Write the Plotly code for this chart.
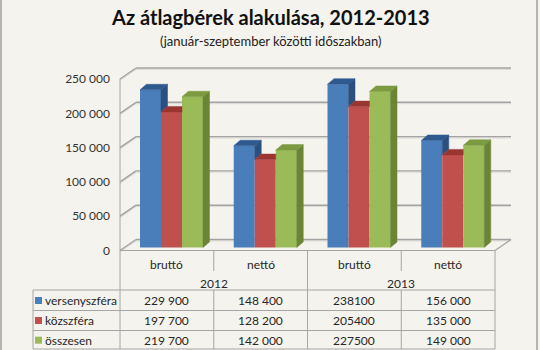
import plotly.graph_objects as go

# ---------------- data ----------------
CATEGORIES = ["bruttó", "nettó", "bruttó", "nettó"]
YEARS = ["2012", "2013"]
SERIES = ["versenyszféra", "közszféra", "összesen"]
VERSENY = [229900, 148400, 238100, 156000]
KOZ = [197700, 128200, 205400, 135000]
OSSZ = [219700, 142000, 227500, 149000]
Y_TICKS = [0, 50000, 100000, 150000, 200000, 250000]
Y_TICK_LABELS = ["0", "50 000", "100 000", "150 000", "200 000", "250 000"]
THOUSANDS_SPACE = [True, True, False, True]   # as printed in the source table

VALUES = [VERSENY, KOZ, OSSZ]
FRONT_COLORS = ["#4A7EBB", "#C0504D", "#9BBB59"]
TOP_COLORS = ["#2F5A90", "#9A3532", "#7C9A40"]
SIDE_COLORS = ["#2B4F7E", "#8A2F2D", "#6A8535"]

# ---------------- geometry ----------------
W, H = 540, 350
CAT_PX = 93.75          # width of one category (px)
X0_PX = 166.9           # front-plane centre of first category (px)
Y0_PX = 247.5           # bar base (px)
PX_PER_VAL = 171.5 / 250000


def ux(px):
    return px / CAT_PX


def uy(px):
    return px / PX_PER_VAL


def yv(px):  # pixel row -> y value
    return (Y0_PX - px) / PX_PER_VAL


XR = [-X0_PX / CAT_PX, (W - X0_PX) / CAT_PX]
YR = [yv(H), yv(0)]

BAR_SHIFT = ux(4.6)
BAR_W = ux(21)
BAR_DX, BAR_DY = ux(6.5), uy(5.5)
FRONT_DY = -uy(3)
WALL_DX, WALL_DY = ux(16), uy(11)
LEFT = -0.5
RIGHT = len(CATEGORIES) - 0.5
LEG_LEFT = ux(33 - X0_PX)

GRID = "#A3A3A3"
GRID_SHADOW = "#DEDCD6"
TLINE = "#A6A6A6"
BG = "#F5F3EE"
TXT = "#262626"
FONT = "Lato"

fig = go.Figure()

# front faces (bars)
for k, name in enumerate(SERIES):
    xs = [i + BAR_SHIFT + (k - 1) * BAR_W for i in range(len(CATEGORIES))]
    fig.add_trace(go.Bar(x=xs, y=VALUES[k], width=BAR_W, name=name,
                         marker=dict(color=FRONT_COLORS[k], line=dict(width=0)),
                         hoverinfo="skip", showlegend=False))

# side & top faces
for k in range(len(SERIES)):
    sx, sy, tx, ty = [], [], [], []
    for i in range(len(CATEGORIES)):
        v = VALUES[k][i]
        L = i + BAR_SHIFT + (k - 1.5) * BAR_W
        R = L + BAR_W
        nb = VALUES[k + 1][i] if k + 1 < len(SERIES) else None
        lower = nb if nb is not None else 0
        if v > lower:
            sx += [R, R + BAR_DX, R + BAR_DX, R, R, None]
            sy += [lower, lower + BAR_DY, v + BAR_DY, v, lower, None]
        if nb is not None and nb > v:
            tx += [L, L + BAR_DX, R, R, L, None]
        else:
            tx += [L, L + BAR_DX, R + BAR_DX, R, L, None]
        ty += [v, v + BAR_DY, v + BAR_DY, v, v, None]
    fig.add_trace(go.Scatter(x=sx, y=sy, mode="lines", fill="toself",
                             fillcolor=SIDE_COLORS[k],
                             line=dict(color=SIDE_COLORS[k], width=0.5),
                             hoverinfo="skip", showlegend=False))
    fig.add_trace(go.Scatter(x=tx, y=ty, mode="lines", fill="toself",
                             fillcolor=TOP_COLORS[k],
                             line=dict(color=TOP_COLORS[k], width=0.5),
                             hoverinfo="skip", showlegend=False))

# dummy trace to host the front-plane value axis
fig.add_trace(go.Scatter(x=[None], y=[None], yaxis="y2", showlegend=False,
                         hoverinfo="skip"))

shapes = []


def line(x0, y0, x1, y1, color, width=1, layer="below"):
    shapes.append(dict(type="line", xref="x", yref="y", x0=x0, y0=y0, x1=x1,
                       y1=y1, line=dict(color=color, width=width), layer=layer))


# gridlines: left wall + back wall
for v in Y_TICKS:
    yf = v + FRONT_DY
    yb = yf + WALL_DY
    line(LEFT, yf - uy(1.3), LEFT + WALL_DX, yb - uy(1.3), GRID_SHADOW, 1.2)
    line(LEFT + WALL_DX, yb - uy(1.3), RIGHT + WALL_DX, yb - uy(1.3), GRID_SHADOW, 1.2)
    line(LEFT, yf, LEFT + WALL_DX, yb, GRID, 1.4)
    line(LEFT + WALL_DX, yb, RIGHT + WALL_DX, yb, GRID, 1.4)

# floor
line(LEFT, FRONT_DY, RIGHT, FRONT_DY, GRID, 1.2)
line(RIGHT, FRONT_DY, RIGHT + WALL_DX, FRONT_DY + WALL_DY, GRID, 1.2)

# left front edge of wall continuing into the table
line(LEFT, Y_TICKS[-1] + FRONT_DY, LEFT, yv(349), TLINE, 1)

# table grid
ROW_TOP = 290
ROW_LINES = [290, 310.5, 330.5, 349]
HEADER_END = 271
for j in range(1, len(CATEGORIES)):
    xj = LEFT + j
    if j % 2 == 0:
        line(xj, FRONT_DY, xj, yv(349), TLINE)
    else:
        line(xj, FRONT_DY, xj, yv(HEADER_END), TLINE)
        line(xj, yv(ROW_TOP), xj, yv(349), TLINE)
line(RIGHT, FRONT_DY, RIGHT, yv(349), TLINE)
line(LEG_LEFT, yv(ROW_TOP), LEG_LEFT, yv(349), TLINE)
for r in ROW_LINES:
    line(LEG_LEFT, yv(r), RIGHT, yv(r), TLINE)

# outer border
for xp in [1, 537]:
    shapes.append(dict(type="line", xref="paper", yref="paper", x0=xp / W,
                       x1=xp / W, y0=0, y1=1,
                       line=dict(color="#8A8A8A", width=1.2)))

annotations = []


def text(x, y, s, size=12, xref="x", xanchor="center", bold=False, color=TXT):
    annotations.append(dict(x=x, y=y, xref=xref, yref="paper", text=s,
                            showarrow=False, xanchor=xanchor, yanchor="middle",
                            font=dict(family=FONT, size=size, color=color,
                                      weight="bold" if bold else "normal")))


def py(px):
    return 1 - px / H


text(270 / W, py(17), "Az átlagbérek alakulása, 2012-2013", size=20,
     xref="paper", bold=True, color="#111111")
text(271 / W, py(41), "(január-szeptember közötti időszakban)", size=13,
     xref="paper", color="#222222")

for i, c in enumerate(CATEGORIES):
    text(i, py(264), c)
for j, yr in enumerate(YEARS):
    text(2 * j + 0.5, py(283), yr)

ROW_CENTERS = [300.5, 320.5, 340.2]
for k, name in enumerate(SERIES):
    rc = ROW_CENTERS[k]
    shapes.append(dict(type="rect", xref="paper", yref="paper",
                       x0=35 / W, x1=42 / W, y0=py(rc + 3.5), y1=py(rc - 3.5),
                       fillcolor=FRONT_COLORS[k], line=dict(width=0),
                       layer="above"))
    text(43 / W, py(rc), name, xref="paper", xanchor="left")
    for i, v in enumerate(VALUES[k]):
        s = f"{v:,}".replace(",", " ") if THOUSANDS_SPACE[i] else str(v)
        text(i, py(rc), s)

fig.update_layout(
    width=W, height=H, margin=dict(l=0, r=0, t=0, b=0),
    paper_bgcolor=BG, plot_bgcolor="rgba(0,0,0,0)",
    showlegend=False, hovermode=False, barmode="overlay",
    xaxis=dict(range=XR, visible=False, fixedrange=True),
    yaxis=dict(range=YR, visible=False, fixedrange=True),
    yaxis2=dict(range=[YR[0] + uy(3), YR[1] + uy(3)], overlaying="y",
                anchor="free", position=120 / W, side="left",
                tickvals=Y_TICKS, ticktext=Y_TICK_LABELS, showgrid=False,
                zeroline=False, showline=False, ticks="",
                ticklabelstandoff=10,
                tickfont=dict(family=FONT, size=12, color="#333333"),
                fixedrange=True),
    shapes=shapes, annotations=annotations,
)

fig.write_html("out.html")
